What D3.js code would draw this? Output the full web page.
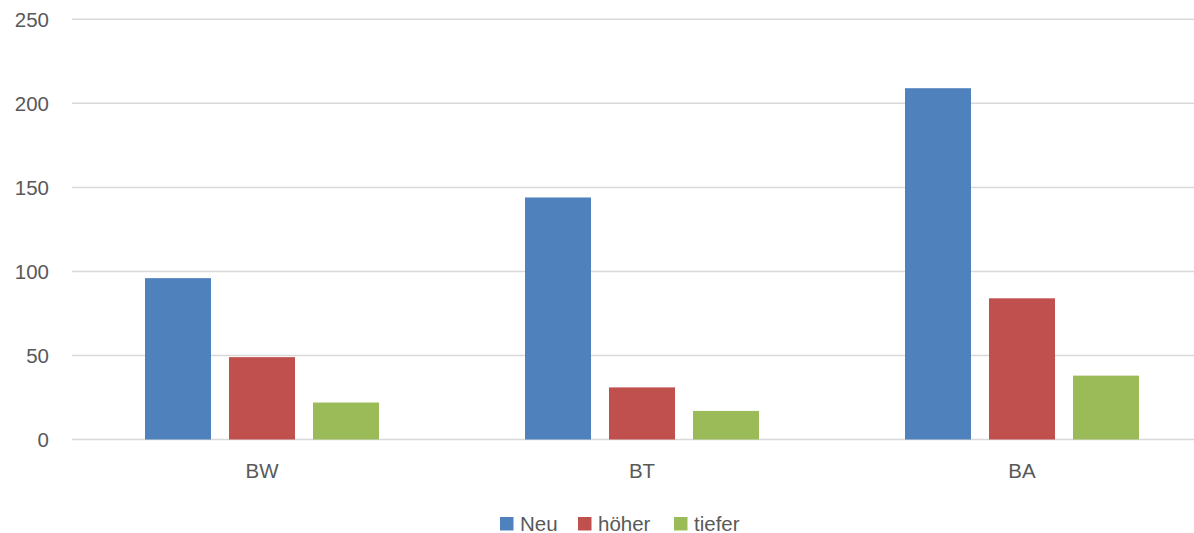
<!DOCTYPE html>
<html><head><meta charset="utf-8">
<script src="https://cdn.jsdelivr.net/npm/d3@7/dist/d3.min.js"></script>
<style>html,body{margin:0;padding:0;background:#fff;overflow:hidden}</style>
</head><body><svg id="c" width="1194" height="533"></svg>
<script>
const categories = ["BW", "BT", "BA"];
const seriesNames = ["Neu", "höher", "tiefer"];
const neu = [96, 144, 209];
const hoeher = [49, 31, 84];
const tiefer = [22, 17, 38];
const yTicks = [0, 50, 100, 150, 200, 250];
const colors = ["#4F81BD", "#C0504D", "#9BBB59"];

const values = [neu, hoeher, tiefer];
const svg = d3.select("#c");
const font = "'Liberation Sans', Arial, sans-serif";
const textColor = "#595959";

const x = d3.scaleBand().domain(categories).range([72, 1212]).paddingInner(0).paddingOuter(0);
const y = d3.scaleLinear().domain([0, 250]).range([439.5, 19.3]);
const x1 = d3.scaleBand().domain(seriesNames).range([73, 307]).paddingInner(18/84).paddingOuter(0);

// gridlines
svg.append("g").selectAll("line").data(yTicks).join("line")
  .attr("x1", 72).attr("x2", 1212)
  .attr("y1", d => y(d)).attr("y2", d => y(d))
  .attr("stroke", "#d9d9d9").attr("stroke-width", 1.5);

// y labels
svg.append("g").selectAll("text").data(yTicks).join("text")
  .attr("x", 49).attr("y", d => y(d) + 7.5)
  .attr("text-anchor", "end")
  .attr("font-family", font).attr("font-size", 20.5).attr("fill", textColor)
  .text(d => d);

// bars
const groups = svg.append("g").selectAll("g").data(categories).join("g")
  .attr("transform", d => `translate(${x(d)},0)`);
groups.selectAll("rect").data((c, i) => seriesNames.map((s, j) => ({s, j, v: values[j][i]})))
  .join("rect")
  .attr("x", d => x1(d.s)).attr("width", x1.bandwidth())
  .attr("y", d => y(d.v)).attr("height", d => y(0) - y(d.v))
  .attr("fill", d => colors[d.j]);

// category labels
svg.append("g").selectAll("text").data(categories).join("text")
  .attr("x", d => x(d) + x.bandwidth() / 2).attr("y", 478)
  .attr("text-anchor", "middle")
  .attr("font-family", font).attr("font-size", 20.5).attr("fill", textColor)
  .text(d => d);

// legend
const legendX = [500, 578, 674];
const lg = svg.append("g").selectAll("g").data(seriesNames).join("g")
  .attr("transform", (d, i) => `translate(${legendX[i]},0)`);
lg.append("rect").attr("x", 0).attr("y", 517).attr("width", 13.5).attr("height", 13.5)
  .attr("fill", (d, i) => colors[i]);
lg.append("text").attr("x", 20).attr("y", 530.5)
  .attr("font-family", font).attr("font-size", 20.5).attr("fill", textColor)
  .text(d => d);
</script></body></html>
